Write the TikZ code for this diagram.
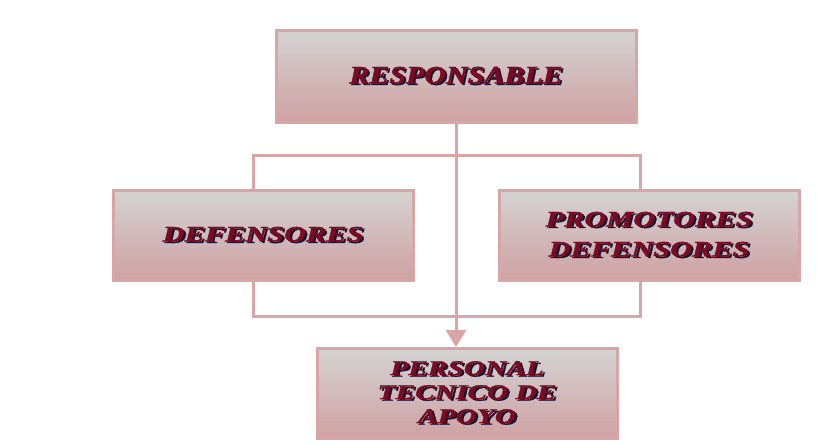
\documentclass[tikz,border=0pt]{standalone}
\usepackage{fontspec}
\setmainfont{Liberation Serif}
\newfontfamily\gruesa[FakeBold=1.2]{Liberation Serif}
\usetikzlibrary{arrows.meta, positioning}
\definecolor{rosa}{HTML}{D8A6A6}
\definecolor{grisclaro}{HTML}{D5D3D3}
\definecolor{rosafondo}{HTML}{CFA1A2}
\definecolor{granate}{HTML}{7C0A24}
\definecolor{sombra}{HTML}{141430}
\newcommand{\sombreado}[2][1.38]{% wide text with a dark shadow behind it
  \scalebox{#1}[1]{\makebox[0pt][l]{\hspace{1.6pt}\raisebox{-1.6pt}{\textcolor{sombra}{#2}}}\textcolor{granate}{#2}}}
\tikzset{
  caja/.style={draw=rosa, line width=3pt, top color=grisclaro, bottom color=rosafondo,
    minimum width=300pt, minimum height=90pt, align=center,
    font=\gruesa\bfseries\itshape\fontsize{22}{30}\selectfont}, % the boxes
  linea/.style={draw=rosa, line width=3pt}, % the connectors
  flecha/.style={linea, -{Triangle[width=20pt,length=17pt]}},
}
\begin{document}
\begin{tikzpicture}[x=1pt, y=-1pt]
  \useasboundingbox (0,0) rectangle (830,445);
  % bracket behind the middle boxes
  \coordinate (esqA) at (253,155);
  \coordinate (esqB) at (640,316);
  \draw[linea] (esqA) rectangle (esqB);

  \node[caja, minimum width=360pt, minimum height=92pt,
    font=\gruesa\bfseries\itshape\fontsize{25}{27}\selectfont] (resp) at (456,76) {\sombreado[1.2]{RESPONSABLE}};
  \node[caja] (def) at (263,235) {\sombreado{DEFENSORES}};
  \node[caja] (prom) at (649,235) {\sombreado{PROMOTORES}\\\sombreado{DEFENSORES}};
  \node[caja, font=\gruesa\bfseries\itshape\fontsize{21}{24}\selectfont] (pers) at (467,393)
    {\sombreado[1.4]{PERSONAL}\\\sombreado[1.4]{TECNICO DE}\\\sombreado[1.4]{APOYO}};

  \draw[flecha] (resp.south -| 456,0) -- (456,347);
\end{tikzpicture}
\end{document}
